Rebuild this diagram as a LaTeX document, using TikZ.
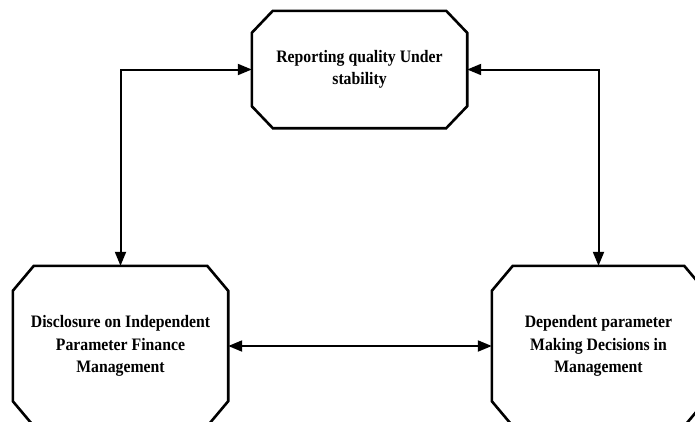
\documentclass[tikz,border=0pt]{standalone}
\usepackage{fontspec}
\setmainfont{Liberation Serif}
\newfontfamily\boxfont[FakeStretch=0.9]{Liberation Serif}
\usetikzlibrary{arrows.meta}
\tikzset{
  boxnode/.style={rectangle, inner sep=0pt, align=center,
    font=\boxfont\bfseries\fontsize{17.5}{22.5}\selectfont},
  octo/.style={line width=2.6pt, line join=miter},
  conn/.style={line width=2pt,
    {Triangle[length=14pt,width=11pt]}-{Triangle[length=14pt,width=11pt]}}
}
\newcommand{\octagon}[3]{% name, xcut, ycut
  \draw[octo] ([xshift=#2]#1.north west) -- ([xshift=-#2]#1.north east)
    -- ([yshift=-#3]#1.north east) -- ([yshift=#3]#1.south east)
    -- ([xshift=-#2]#1.south east) -- ([xshift=#2]#1.south west)
    -- ([yshift=#3]#1.south west) -- ([yshift=-#3]#1.north west) -- cycle;}
\begin{document}
\begin{tikzpicture}[x=1pt,y=-1pt]
  \clip (0,0) rectangle (695,421);
  \fill[white] (0,0) rectangle (695,421);
  \node[boxnode, minimum width=215pt, minimum height=117pt] (top) at (359.5,69.5)
    {Reporting quality Under\\stability};
  \node[boxnode, minimum width=215pt, minimum height=160pt] (left) at (120.5,346)
    {Disclosure on Independent\\Parameter Finance\\Management};
  \node[boxnode, minimum width=213pt, minimum height=160pt] (right) at (598.5,346)
    {Dependent parameter\\Making Decisions in\\Management};
  \octagon{top}{21pt}{22pt}
  \octagon{left}{21pt}{25pt}
  \octagon{right}{21pt}{25pt}
  \draw[conn] (left.north) |- (top.west);
  \draw[conn] (top.east) -| (right.north);
  \draw[conn] (left.east) -- (right.west);
\end{tikzpicture}
\end{document}
